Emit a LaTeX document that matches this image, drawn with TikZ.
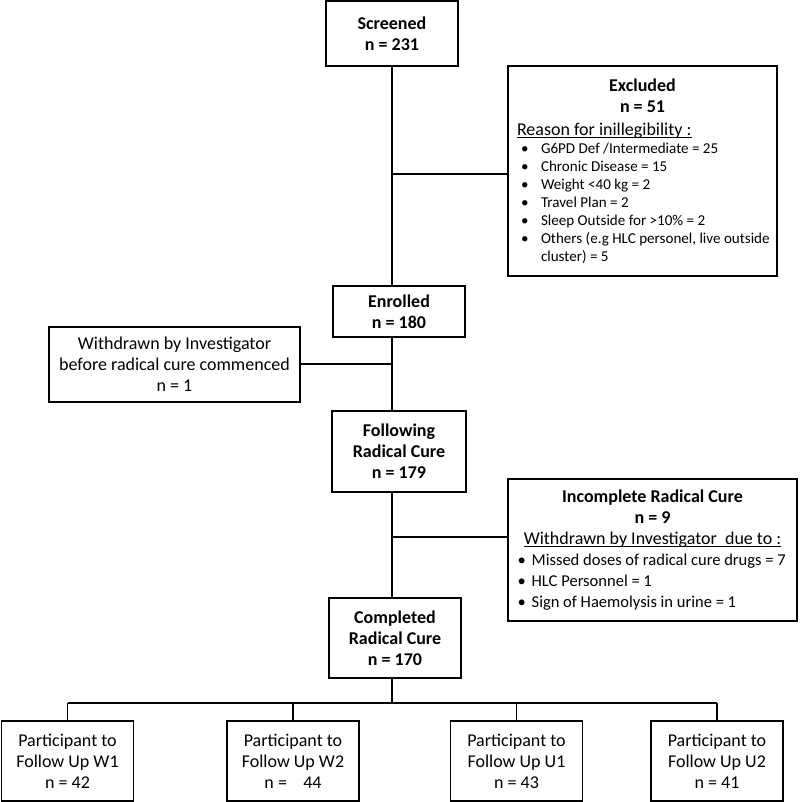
\documentclass[tikz,border=0pt]{standalone}
\usepackage{fontspec}
\setmainfont{Carlito}
\usepackage{tikz}
\newcommand{\fsmain}{\fontsize{13.5pt}{15.75pt}\selectfont}
\newcommand{\fslist}{\fontsize{11.3pt}{13.5pt}\selectfont}
\newcommand{\fslistb}{\fontsize{12.4pt}{15.6pt}\selectfont}
\newcommand{\bitem}[3]{\par\hangindent=#2\hangafter=1\noindent\makebox[#2][l]{\hspace{#1}\textbullet}#3}
\newcommand{\undl}[1]{\leavevmode\setbox0\hbox{#1}\rlap{\rule[-1.6pt]{\wd0}{0.6pt}}\box0}

\begin{document}
\begin{tikzpicture}[x=0.75pt,y=0.75pt,yscale=-1,xscale=1,
  box/.style={draw, line width=0.9pt, align=center, inner sep=2pt, font=\fsmain},
  head/.style={box, font=\fsmain\bfseries},
  listbox/.style={draw, line width=0.9pt, align=left, inner xsep=6.75pt, inner ysep=2pt, font=\fsmain},
  link/.style={line width=0.9pt}]
\useasboundingbox (0,0) rectangle (800,802);

%Shape: Rectangle [Screened]
\node [head, minimum width=99pt, minimum height=48.75pt] (screened) at (392,33.5) {Screened\\n = 231};
%Shape: Rectangle [Excluded]
\node [listbox, minimum height=157.5pt, text width=188.25pt] (excluded) at (642.5,171) {%
  \spaceskip=0pt \xspaceskip=0pt
  {\centering\bfseries Excluded\\ n = 51\par}
  \vspace{1.5pt}\noindent\undl{Reason for inillegibility :}\par
  \fslist
  \bitem{3pt}{18pt}{G6PD Def /Intermediate = 25}
  \bitem{3pt}{18pt}{Chronic Disease = 15}
  \bitem{3pt}{18pt}{Weight <40 kg = 2}
  \bitem{3pt}{18pt}{Travel Plan = 2}
  \bitem{3pt}{18pt}{Sleep Outside for >10\% = 2}
  \bitem{3pt}{18pt}{\mbox{Others (e.g HLC personel, live outside}\newline cluster) = 5}\par};
%Shape: Rectangle [Enrolled]
\node [head, minimum width=99pt, minimum height=38.25pt] (enrolled) at (399,311.5) {Enrolled\\n = 180};
%Shape: Rectangle [Withdrawn]
\node [box, minimum width=188.25pt, minimum height=56.25pt] (withdrawn) at (174.5,364.5) {Withdrawn by Investigator\\before radical cure commenced\\n = 1};
%Shape: Rectangle [Following]
\node [head, minimum width=100.5pt, minimum height=60.75pt] (following) at (399,451.5) {Following\\Radical Cure\\n = 179};
%Shape: Rectangle [Incomplete]
\node [listbox, minimum height=106.5pt, text width=203.25pt] (incomplete) at (652.5,550) {%
  \spaceskip=0pt \xspaceskip=0pt
  {\centering\bfseries Incomplete Radical Cure\\ n = 9\\ \mdseries\undl{Withdrawn by Investigator\ \ due to :}\par}
  \fslistb
  \bitem{0.5pt}{11pt}{Missed doses of radical cure drugs = 7}
  \bitem{0.5pt}{11pt}{HLC Personnel = 1}
  \bitem{0.5pt}{11pt}{Sign of Haemolysis in urine = 1}\par};
%Shape: Rectangle [Completed]
\node [head, minimum width=99pt, minimum height=60pt] (completed) at (395,638) {Completed\\Radical Cure\\n = 170};

%Shape: Rectangle [Follow up]
\node [box, minimum width=99pt, minimum height=60pt] (fuw1) at (67.5,761) {Participant to\\Follow Up W1\\n = 42};
\node [box, minimum width=99pt, minimum height=60pt] (fuw2) at (293,761) {Participant to\\Follow Up W2\\n =\ \ \ \ 44};
\node [box, minimum width=99pt, minimum height=60pt] (fuu1) at (516.5,761) {Participant to\\Follow Up U1\\n = 43};
\node [box, minimum width=99pt, minimum height=60pt] (fuu2) at (717,761) {Participant to\\Follow Up U2\\n = 41};

% junctions on the main line
\coordinate (j1) at (392,174);
\coordinate (j2) at (392,364);
\coordinate (j3) at (392,537);
\coordinate (j4) at (392,703);

%Straight Lines
\draw [link] (screened.south) -- (screened.south |- enrolled.north);
\draw [link] (j1) -- (j1 -| excluded.west);
\draw [link] (j2 |- enrolled.south) -- (j2 |- following.north);
\draw [link] (j2) -- (j2 -| withdrawn.east);
\draw [link] (j3 |- following.south) -- (j3 |- completed.north);
\draw [link] (j3) -- (j3 -| incomplete.west);
\draw [link] (j4 |- completed.south) -- (j4);
\draw [link] (j4 -| fuw1) -- (j4 -| fuu2);
\foreach \n in {fuw1,fuw2,fuu1,fuu2}
  \draw [link] (j4 -| \n) -- (\n.north);

\end{tikzpicture}
\end{document}
